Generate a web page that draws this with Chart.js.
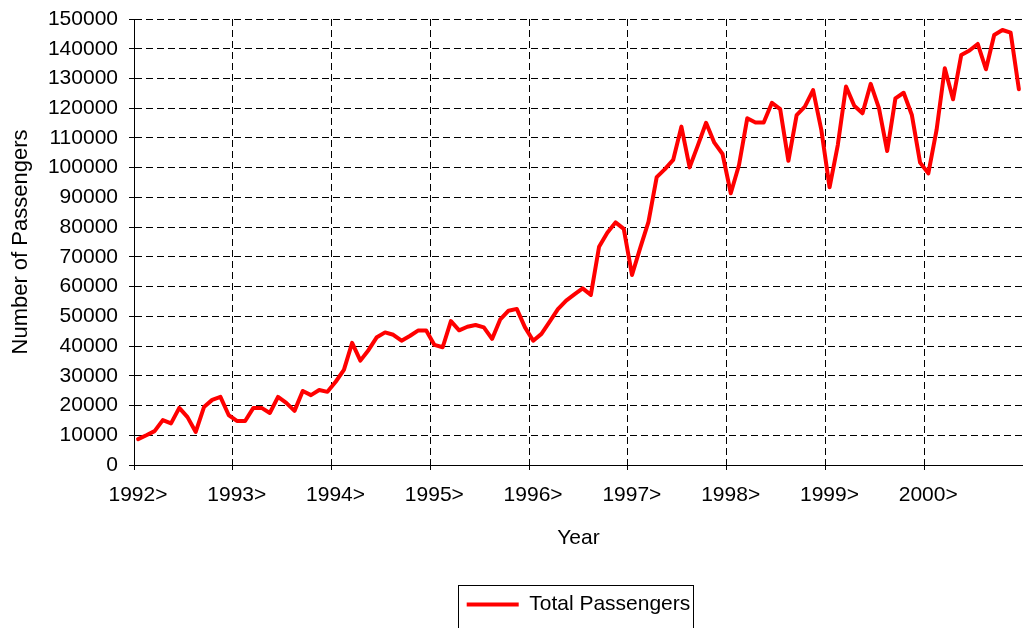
<!DOCTYPE html>
<html>
<head>
<meta charset="utf-8">
<title>Total Passengers</title>
<script src="https://cdn.jsdelivr.net/npm/chart.js@4.4.1/dist/chart.umd.min.js"></script>
<style>
  html, body { margin: 0; padding: 0; background: #fff; }
  canvas { display: block; }
</style>
</head>
<body>
<canvas id="passengerChart" width="1023" height="628"></canvas>
<script>
// Year tick labels (one per 12 months)
const yearLabels = ['1992>', '1993>', '1994>', '1995>', '1996>', '1997>', '1998>', '1999>', '2000>'];

// Monthly passengers, Jan..Dec of each year
const pax1992 = [8700, 10000, 11400, 15100, 14000, 19200, 16100, 11100, 19500, 21900, 22900, 16800];
const pax1993 = [14800, 14800, 19200, 19200, 17500, 22900, 20900, 18200, 24900, 23500, 25200, 24600];
const pax1994 = [28000, 32000, 41100, 35100, 38700, 43000, 44600, 43800, 41800, 43400, 45200, 45200];
const pax1995 = [40400, 39600, 48400, 45300, 46500, 47100, 46300, 42400, 49000, 51900, 52500, 46300];
const pax1996 = [41800, 44100, 48200, 52400, 55300, 57400, 59400, 57200, 73400, 78100, 81600, 79400];
const pax1997 = [63900, 73000, 81800, 96800, 99500, 102600, 113800, 100100, 107500, 115100, 108400, 104600];
const pax1998 = [91400, 100900, 116600, 115200, 115200, 121800, 119700, 102300, 117700, 120500, 126100, 112700];
const pax1999 = [93400, 107600, 127300, 120800, 118300, 128200, 120000, 105600, 123300, 125200, 117700, 101700];
const pax2000 = [98100, 112700, 133400, 123000, 137900, 139400, 141600, 133100, 144600, 146300, 145400, 126400];

const allPax = [].concat(pax1992, pax1993, pax1994, pax1995, pax1996, pax1997, pax1998, pax1999, pax2000);

const FONT = "'Liberation Sans', Arial, sans-serif";

// draws the black frame around the legend like the original
const legendFrame = {
  id: 'legendFrame',
  afterDraw(chart) {
    const hit = chart.legend && chart.legend.legendHitBoxes && chart.legend.legendHitBoxes[0];
    if (!hit) return;
    const ctx = chart.ctx;
    ctx.save();
    ctx.strokeStyle = '#000';
    ctx.lineWidth = 1;
    ctx.strokeRect(Math.round(hit.left - 9) + 0.5, Math.round(hit.top - 9) + 0.5, Math.round(hit.width + 11), 80);
    ctx.restore();
  }
};

document.addEventListener("DOMContentLoaded", () => {
  const ctx = document.getElementById("passengerChart").getContext("2d");

  new Chart(ctx, {
    type: "line",
    data: {
      datasets: [{
        label: "Total Passengers",
        // month i sits in the middle of its slot
        data: allPax.map((v, i) => ({ x: i + 0.5, y: v })),
        borderColor: "#ff0000",
        backgroundColor: "#ff0000",
        borderWidth: 4,
        borderCapStyle: "round",
        borderJoinStyle: "round",
        pointRadius: 0,
        pointHoverRadius: 0,
        tension: 0,
        fill: false,
      }],
    },
    options: {
      responsive: false,
      animation: false,
      devicePixelRatio: 1,
      layout: {
        padding: { top: 19, left: 0, right: 0, bottom: 3 },
      },
      scales: {
        x: {
          type: "linear",
          min: 0,
          max: 108,
          grid: {
            color: "#000",
            lineWidth: 1,
            tickLength: 5,
            tickColor: "#000",
            tickBorderDash: [],
          },
          border: { display: true, color: "#000", width: 1, dash: [7, 4] },
          ticks: {
            stepSize: 12,
            autoSkip: false,
            maxRotation: 0,
            padding: 13,
            labelOffset: 4,
            color: "#000",
            font: { family: FONT, size: 21 },
            callback: (v) => yearLabels[v / 12] || "",
          },
          title: {
            display: true,
            text: "Year",
            color: "#000",
            font: { family: FONT, size: 21 },
            padding: { top: 17, bottom: 33 },
          },
          afterFit: (scale) => {
            // no side padding, plot runs to the right edge
            scale.paddingLeft = 0;
            scale.paddingRight = 0;
            scale.height = 119;
          },
        },
        y: {
          min: 0,
          max: 150000,
          grid: {
            color: "#000",
            lineWidth: 1,
            tickLength: 5,
            tickColor: "#000",
            tickBorderDash: [],
          },
          border: { display: true, color: "#000", width: 1, dash: [7, 4] },
          ticks: {
            stepSize: 10000,
            autoSkip: false,
            padding: 11,
            color: "#000",
            font: { family: FONT, size: 21 },
            callback: (v) => String(v),
          },
          title: {
            display: true,
            text: "Number of Passengers",
            color: "#000",
            font: { family: FONT, size: 22 },
            padding: { top: 8, bottom: 13 },
          },
          afterFit: (scale) => {
            scale.paddingTop = 0;
            scale.paddingBottom = 0;
            scale.width = 134;
          },
        },
      },
      plugins: {
        legend: {
          display: true,
          position: "bottom",
          fullSize: false,
          labels: {
            usePointStyle: true,
            pointStyle: "line",
            pointStyleWidth: 52,
            padding: 10,
            color: "#000",
            font: { family: FONT, size: 21 },
          },
        },
        tooltip: { enabled: false },
      },
    },
    plugins: [legendFrame],
  });
});
</script>
</body>
</html>
